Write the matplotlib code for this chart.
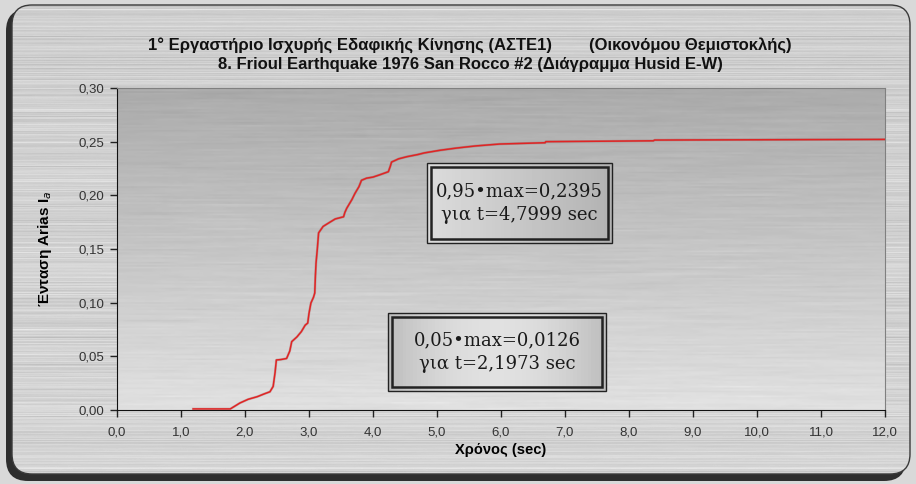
import numpy as np
import matplotlib
matplotlib.use("Agg")
import matplotlib.pyplot as plt
from matplotlib.patches import FancyBboxPatch, Rectangle
from matplotlib.ticker import FuncFormatter, MultipleLocator

# Husid curve (cumulative Arias intensity), Friuli 1976, San Rocco #2, E-W
time_sec = [1.19, 1.77, 1.92, 2.05, 2.18, 2.20, 2.30, 2.39, 2.44, 2.47, 2.49,
            2.56, 2.65, 2.70, 2.73, 2.81, 2.88, 2.94, 2.98, 3.00, 3.03, 3.07,
            3.09, 3.10, 3.11, 3.13, 3.15, 3.22, 3.30, 3.41, 3.54, 3.56, 3.59,
            3.67, 3.72, 3.78, 3.82, 3.90, 4.00, 4.10, 4.24, 4.27, 4.29, 4.40,
            4.53, 4.70, 4.80, 5.05, 5.30, 5.60, 5.98, 6.69, 6.70, 8.38, 8.40,
            12.0]
arias = [0.001, 0.001, 0.0065, 0.010, 0.0122, 0.0126, 0.015, 0.017, 0.022,
         0.035, 0.0466, 0.047, 0.048, 0.055, 0.0637, 0.068, 0.073, 0.079,
         0.081, 0.090, 0.0997, 0.105, 0.109, 0.125, 0.137, 0.150, 0.165,
         0.171, 0.174, 0.178, 0.180, 0.184, 0.188, 0.196, 0.202, 0.208,
         0.214, 0.216, 0.217, 0.219, 0.222, 0.227, 0.231, 0.234, 0.236,
         0.238, 0.2395, 0.242, 0.244, 0.246, 0.2478, 0.2490, 0.2500, 0.2508,
         0.2515, 0.2521]

box_texts = ["0,95•max=0,2395\nγια t=4,7999 sec",
             "0,05•max=0,0126\nγια t=2,1973 sec"]

title1 = "1° Εργαστήριο Ισχυρής Εδαφικής Κίνησης (ΑΣΤΕ1)        (Οικονόμου Θεμιστοκλής)"
title2 = "8. Frioul Earthquake 1976 San Rocco #2 (Διάγραμμα Husid E-W)"
xlabel = "Χρόνος (sec)"
ylabel = "Ένταση Arias I$_a$"

SANS = ["Liberation Sans", "DejaVu Sans"]

W, H = 916, 484
fig = plt.figure(figsize=(W / 100, H / 100), dpi=100)
fig.patch.set_facecolor("#d9d9d9")


def smooth_rows(a, k):
    return np.apply_along_axis(lambda r: np.convolve(r, np.ones(k) / k, mode="same"), 1, a)


# brushed-metal background over the whole figure
bg = fig.add_axes([0, 0, 1, 1])
bg.set_xlim(0, W)
bg.set_ylim(H, 0)
bg.axis("off")
rng = np.random.default_rng(3)
streaks = rng.normal(0, 1, (H, 1)) * 0.5 + rng.normal(0, 1, (H, W)) * 0.5
streaks = smooth_rows(streaks, 31)
tex = np.clip(0.81 + 0.02 * np.linspace(0, 1, H)[:, None] + 0.05 * streaks, 0, 1)

shadow = FancyBboxPatch((6, 9), W - 16, H - 12, boxstyle="round,pad=0,rounding_size=22",
                        fc="#2e2e2e", ec="none", transform=bg.transData)
bg.add_patch(shadow)
frame = FancyBboxPatch((12, 5), W - 18, H - 15, boxstyle="round,pad=0,rounding_size=20",
                       fc="none", ec="#3a3a3a", lw=1.0, transform=bg.transData)
img = bg.imshow(tex, cmap="gray", vmin=0, vmax=1, extent=(0, W, H, 0),
                aspect="auto", zorder=1)
img.set_clip_path(frame)
bg.add_patch(frame)
frame.set_zorder(2)

# plot area: darker at the top, lighter towards the axis
ax = fig.add_axes([117 / W, 1 - 410 / H, 768 / W, 322 / H])
ax.set_xlim(0, 12)
ax.set_ylim(0, 0.30)
grad = np.linspace(0.67, 0.88, 200)[:, None] * np.ones((1, 120))
grad = grad + 0.03 * smooth_rows(rng.normal(0, 1, (200, 120)), 11)
ax.imshow(grad, cmap="gray", vmin=0, vmax=1, extent=(0, 12, 0, 0.30),
          aspect="auto", zorder=0, origin="upper")

ax.plot(time_sec, arias, color="#8a1515", lw=1.8, alpha=0.25, zorder=3)
ax.plot(time_sec, arias, color="#e02424", lw=1.1, zorder=4)

ax.xaxis.set_major_locator(MultipleLocator(1.0))
ax.yaxis.set_major_locator(MultipleLocator(0.05))
ax.xaxis.set_major_formatter(FuncFormatter(lambda v, p: f"{v:.1f}".replace(".", ",")))
ax.yaxis.set_major_formatter(FuncFormatter(lambda v, p: f"{v:.2f}".replace(".", ",")))
ax.tick_params(direction="out", length=5, width=1, color="#222222",
               labelsize=9.5, labelcolor="#333333", pad=4)
for lab in ax.get_xticklabels() + ax.get_yticklabels():
    lab.set_family(SANS)
ax.tick_params(axis="x", pad=7)
ax.spines["left"].set_color("#111111")
ax.spines["bottom"].set_color("#111111")
for side in ("top", "right"):
    ax.spines[side].set_color("#808080")
    ax.spines[side].set_linewidth(0.8)

# annotation boxes with double border
boxes = [(0.4036, 0.5186, 0.2409, 0.2484), (0.3529, 0.059, 0.2838, 0.242)]
shades = [np.linspace(0.86, 0.70, 60),
          0.72 + 0.16 * np.sin(np.pi * np.linspace(0.05, 0.95, 60))]
for (bx, by, bw, bh), shade, txt in zip(boxes, shades, box_texts):
    ax.imshow(shade[None, :], cmap="gray", vmin=0, vmax=1,
              extent=(bx * 12, (bx + bw) * 12, by * 0.3, (by + bh) * 0.3),
              aspect="auto", zorder=5)
    ax.add_patch(Rectangle((bx, by), bw, bh, transform=ax.transAxes,
                           fc="none", ec="#222222", lw=1.0, zorder=6))
    dx, dy = 4 / 768, 4 / 322
    ax.add_patch(Rectangle((bx + dx, by + dy), bw - 2 * dx, bh - 2 * dy,
                           transform=ax.transAxes, fc="none", ec="#222222",
                           lw=1.8, zorder=6))
    ax.text(bx + bw / 2, by + bh / 2, txt, transform=ax.transAxes,
            ha="center", va="center", fontsize=13, family="DejaVu Serif",
            color="#1a1a1a", linespacing=1.45, zorder=7)

ax.set_xlabel(xlabel, fontsize=10.5, fontweight="bold", family=SANS, labelpad=3)
ax.set_ylabel(ylabel, fontsize=11, fontweight="bold", family=SANS, labelpad=18)

fig.text(470 / W, 1 - 45 / H, title1, ha="center", va="center", fontsize=12,
         fontweight="bold", family=SANS, color="#111111")
fig.text(470 / W, 1 - 64 / H, title2, ha="center", va="center", fontsize=12,
         fontweight="bold", family=SANS, color="#111111")

fig.savefig("out.png", dpi=100)
